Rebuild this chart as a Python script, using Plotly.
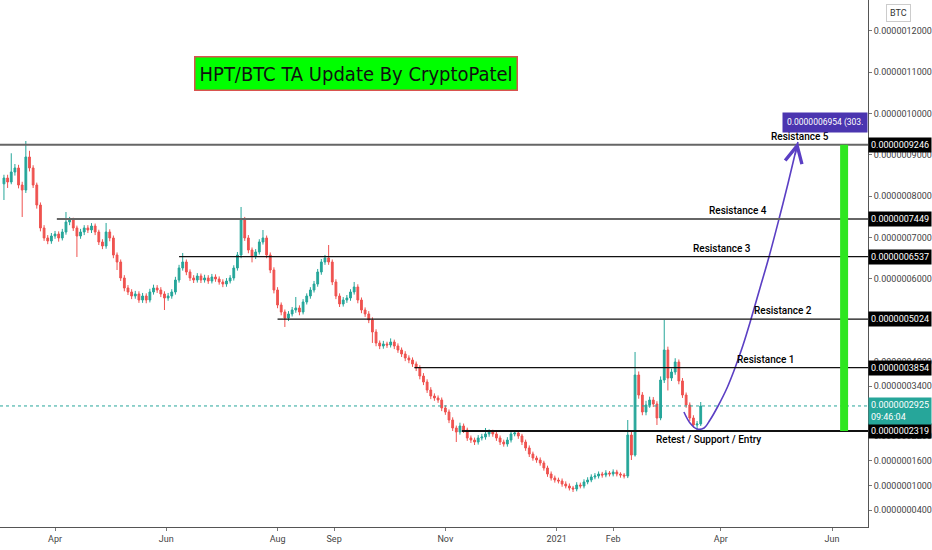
import pandas as pd
import plotly.graph_objs as go

# all prices below are in units of 0.0000000001 BTC
SCALE = 1e-10

# 2-day HPT/BTC candles
dates = pd.date_range("2020-03-04", periods=192, freq="2D")

opens = [
    8300, 8441, 8345, 8587, 8684, 8272, 8151, 8950, 8684, 8272, 7788, 7232,
    6990, 6917, 7038, 7086, 6990, 7135, 7377, 7425, 7232, 7038, 7135, 7232,
    7183, 7280, 7135, 6893, 6796, 7135, 6990, 6578, 6409, 6022, 5780, 5683,
    5586, 5635, 5489, 5586, 5489, 5683, 5780, 5731, 5635, 5538, 5586, 5683,
    5973, 6264, 6409, 6167, 6022, 5973, 6070, 5973, 6022, 5949, 6046, 5997,
    5925, 5876, 5949, 6022, 6264, 6578, 7425, 6990, 6699, 6554, 6651, 6893,
    6990, 6578, 6215, 5731, 5368, 5199, 5054, 5151, 5247, 5296, 5199, 5441,
    5586, 5731, 5876, 6167, 6409, 6506, 6409, 5925, 5586, 5393, 5489, 5538,
    5683, 5804, 5489, 5247, 5151, 5005, 4715, 4449, 4376, 4425, 4400, 4473,
    4376, 4279, 4183, 4086, 4037, 3941, 3844, 3650, 3505, 3311, 3166, 3118,
    3069, 2876, 2779, 2585, 2392, 2295, 2440, 2343, 2150, 2101, 2053, 2150,
    2174, 2247, 2295, 2247, 2150, 2053, 2004, 2101, 2247, 2271, 2198, 2053,
    1908, 1762, 1666, 1617, 1545, 1424, 1278, 1182, 1133, 1109, 1036, 988,
    940, 916, 1012, 988, 1085, 1133, 1206, 1230, 1278, 1254, 1303, 1278,
    1327, 1278, 1254, 1230, 2222, 1738, 3674, 3190, 2779, 2948, 3069, 2972,
    2634, 3553, 4279, 3601, 3747, 3989, 3530, 3190, 2948, 2634, 2464, 2489,
]
highs = [
    8520, 8520, 9040, 8780, 8760, 8350, 9337, 9100, 8750, 8330, 7850, 7300,
    7060, 7110, 7160, 7150, 7210, 7619, 7500, 7480, 7290, 7210, 7300, 7300,
    7350, 7340, 7190, 6960, 7353, 7200, 7050, 6640, 6470, 6090, 5850, 5750,
    5710, 5700, 5660, 5650, 5760, 5860, 5850, 5800, 5700, 5660, 5750, 6050,
    6340, 6627, 6470, 6230, 6090, 6140, 6130, 6100, 6090, 6120, 6110, 6060,
    5990, 6020, 6090, 6330, 6650, 7740, 7500, 7060, 6760, 6720, 6960, 7183,
    7050, 6640, 6280, 5800, 5430, 5260, 5220, 5320, 5562, 5360, 5510, 5650,
    5800, 5950, 6240, 6480, 6580, 6820, 6470, 5990, 5650, 5560, 5610, 5750,
    5925, 5870, 5550, 5310, 5220, 5070, 4780, 4510, 4500, 4480, 4560, 4530,
    4440, 4340, 4250, 4150, 4100, 4000, 3910, 3720, 3570, 3380, 3230, 3180,
    3130, 2940, 2840, 2650, 2450, 2520, 2500, 2400, 2210, 2160, 2220, 2250,
    2392, 2360, 2350, 2300, 2210, 2110, 2170, 2320, 2340, 2330, 2250, 2110,
    1970, 1820, 1720, 1680, 1600, 1480, 1340, 1240, 1190, 1170, 1100, 1050,
    990, 1080, 1070, 1150, 1200, 1270, 1300, 1340, 1330, 1370, 1350, 1390,
    1380, 1320, 1300, 2585, 2300, 4231, 3760, 3260, 3050, 3150, 3140, 3040,
    3640, 5005, 4360, 3830, 4080, 4050, 3600, 3250, 3010, 2700, 2560, 3021,
]
lows = [
    7909, 8200, 8290, 8500, 8190, 7498, 8080, 8600, 8200, 7700, 7150, 6920,
    6840, 6850, 6970, 6900, 6930, 7070, 7300, 7160, 6530, 6970, 7060, 7110,
    7110, 7060, 6820, 6720, 6730, 6910, 6500, 6215, 5950, 5700, 5610, 5510,
    5520, 5420, 5420, 5410, 5430, 5620, 5660, 5560, 5247, 5470, 5520, 5620,
    5910, 6200, 6090, 5950, 5900, 5910, 5900, 5910, 5880, 5890, 5930, 5860,
    5800, 5810, 5890, 5960, 6200, 6500, 6920, 6620, 6400, 6480, 6590, 6830,
    6500, 6140, 5650, 5290, 5120, 4836, 4980, 5090, 5180, 5120, 5140, 5380,
    5520, 5670, 5810, 6100, 6340, 6340, 5850, 5510, 5320, 5330, 5420, 5470,
    5620, 5410, 5170, 5080, 4930, 4450, 4370, 4300, 4310, 4330, 4340, 4300,
    4210, 4110, 4010, 3960, 3870, 3770, 3570, 3430, 3240, 3090, 3050, 3000,
    2800, 2710, 2510, 2320, 2053, 2230, 2270, 2080, 2030, 1980, 1990, 2090,
    2110, 2180, 2180, 2080, 1980, 1940, 1940, 2040, 2190, 2130, 1980, 1840,
    1690, 1600, 1550, 1480, 1360, 1210, 1120, 1070, 1050, 970, 930, 880,
    843, 860, 930, 930, 1030, 1080, 1150, 1170, 1190, 1200, 1220, 1220,
    1220, 1190, 1170, 1180, 1617, 1700, 3100, 2700, 2700, 2880, 2900, 2464,
    2580, 3480, 3300, 3530, 3680, 3450, 3120, 2880, 2560, 2400, 2343, 2440,
]
closes = [
    8441, 8345, 8587, 8684, 8272, 8151, 8950, 8684, 8272, 7788, 7232, 6990,
    6917, 7038, 7086, 6990, 7135, 7377, 7425, 7232, 7038, 7135, 7232, 7183,
    7280, 7135, 6893, 6796, 7135, 6990, 6578, 6409, 6022, 5780, 5683, 5586,
    5635, 5489, 5586, 5489, 5683, 5780, 5731, 5635, 5538, 5586, 5683, 5973,
    6264, 6409, 6167, 6022, 5973, 6070, 5973, 6022, 5949, 6046, 5997, 5925,
    5876, 5949, 6022, 6264, 6578, 7425, 6990, 6699, 6554, 6651, 6893, 6990,
    6578, 6215, 5731, 5368, 5199, 5054, 5151, 5247, 5296, 5199, 5441, 5586,
    5731, 5876, 6167, 6409, 6506, 6409, 5925, 5586, 5393, 5489, 5538, 5683,
    5804, 5489, 5247, 5151, 5005, 4715, 4449, 4376, 4425, 4400, 4473, 4376,
    4279, 4183, 4086, 4037, 3941, 3844, 3650, 3505, 3311, 3166, 3118, 3069,
    2876, 2779, 2585, 2392, 2295, 2440, 2343, 2150, 2101, 2053, 2150, 2174,
    2247, 2295, 2247, 2150, 2053, 2004, 2101, 2247, 2271, 2198, 2053, 1908,
    1762, 1666, 1617, 1545, 1424, 1278, 1182, 1133, 1109, 1036, 988, 940,
    916, 1012, 988, 1085, 1133, 1206, 1230, 1278, 1254, 1303, 1278, 1327,
    1278, 1254, 1230, 2222, 1738, 3674, 3190, 2779, 2948, 3069, 2972, 2634,
    3553, 4279, 3601, 3747, 3989, 3530, 3190, 2948, 2634, 2464, 2489, 2925,
]

# support / resistance levels
level_names = ["Resistance 5", "Resistance 4", "Resistance 3",
               "Resistance 2", "Resistance 1", "Retest / Support / Entry"]
level_prices = [9246, 7449, 6537, 5024, 3854, 2319]
level_starts = ["2020-03-01", "2020-04-02", "2020-06-08",
                "2020-08-01", "2020-10-15", "2020-11-10"]

# projected path (curved arrow)
curve_dates = ["2021-03-11 19:00", "2021-03-15 03:00", "2021-03-19", "2021-03-22 20:00",
               "2021-03-26 02:00", "2021-03-30 12:00", "2021-04-04 10:00", "2021-04-08 19:00",
               "2021-04-13 05:00", "2021-04-17 14:00", "2021-04-22 12:00", "2021-04-27 10:00",
               "2021-05-02 22:00", "2021-05-07 22:00", "2021-05-13 07:00"]
curve_prices = [2779, 2513, 2367, 2392, 2585, 2924, 3360, 3844,
                4400, 5029, 5780, 6530, 7449, 8321, 9313]

last_price = 2925
last_time = "09:46:04"
target_text = "0.0000006954 (303.42"

# price scale ticks (those fully hidden behind the level tags are left out)
ytick_vals = [400, 1000, 1600, 2200, 3400, 4000,
              6000, 7000, 8000, 9000, 10000, 11000, 12000]
xtick_dates = ["2020-04-01", "2020-06-01", "2020-08-01", "2020-09-01", "2020-11-01",
               "2021-01-01", "2021-02-01", "2021-04-01", "2021-06-01"]
xtick_text = ["Apr", "Jun", "Aug", "Sep", "Nov", "2021", "Feb", "Apr", "Jun"]

X_END = "2021-06-20 17:00"
FONT = "Roboto, sans-serif"


def sc(vals):
    return [v * SCALE for v in vals]


fig = go.Figure()

# candles
fig.add_trace(go.Candlestick(x=dates, open=sc(opens), high=sc(highs), low=sc(lows), close=sc(closes),
                             increasing=dict(line=dict(color="#26a69a", width=1), fillcolor="#26a69a"),
                             decreasing=dict(line=dict(color="#ef5350", width=1), fillcolor="#ef5350"),
                             whiskerwidth=0, showlegend=False, hoverinfo="skip"))

# projected curve
fig.add_trace(go.Scatter(x=curve_dates, y=sc(curve_prices), mode="lines",
                         line=dict(color="#5b3fc4", width=1.6, shape="spline"),
                         showlegend=False, hoverinfo="skip"))

shapes = []
# current price dotted line
shapes.append(dict(type="line", xref="paper", x0=0, x1=1, yref="y",
                   y0=last_price * SCALE, y1=last_price * SCALE,
                   line=dict(color="#26a69a", width=1, dash="dot")))
# level lines
for i, (p, s) in enumerate(zip(level_prices, level_starts)):
    grey = i < 2
    shapes.append(dict(type="line", xref="x", x0=s, x1=X_END, yref="y",
                       y0=p * SCALE, y1=p * SCALE,
                       line=dict(color="#666666" if grey else "#111111",
                                 width=2 if (grey or i == 5) else 1.3)))
# green target bar
shapes.append(dict(type="rect", xref="x", x0="2021-06-05 10:00", x1="2021-06-09 19:00",
                   yref="y", y0=level_prices[-1] * SCALE, y1=level_prices[0] * SCALE,
                   fillcolor="#2ee620", line=dict(width=0)))

annotations = []
label_pos = ["2021-05-14 10:00", "2021-04-10 12:00", "2021-04-01 16:00",
             "2021-05-05 02:00", "2021-04-25 20:00", "2021-03-25"]
for name, p, lx in zip(level_names, level_prices, label_pos):
    below = name.startswith("Retest")
    annotations.append(dict(x=lx, y=p * SCALE, xref="x", yref="y", text=name, showarrow=False,
                            xanchor="center", yanchor="top" if below else "bottom",
                            yshift=-1 if below else 1,
                            font=dict(family=FONT, size=10, color="#000000", weight=500)))
    annotations.append(dict(x=1, y=p * SCALE, xref="paper", yref="y", xanchor="left",
                            yanchor="middle", text=f"{p * SCALE:.10f}", showarrow=False,
                            bgcolor="#000000", borderpad=2,
                            font=dict(family=FONT, size=9, color="#ffffff")))

# current price tag
annotations.append(dict(x=1, y=last_price * SCALE, xref="paper", yref="y", xanchor="left",
                        yanchor="top", yshift=9, align="left",
                        text=f"{last_price * SCALE:.10f}<br>{last_time}", showarrow=False,
                        bgcolor="#26a69a", borderpad=2,
                        font=dict(family=FONT, size=9, color="#ffffff")))

# arrow head at end of curve
annotations.append(dict(x=curve_dates[-1], y=curve_prices[-1] * SCALE, xref="x", yref="y",
                        ax=-3, ay=14, showarrow=True, arrowhead=5, arrowsize=2.4,
                        arrowwidth=1.4, arrowcolor="#5b3fc4", text=""))

# target label
annotations.append(dict(x=1, y=9773 * SCALE, xref="paper", yref="y", xanchor="right",
                        yanchor="middle", text=target_text, showarrow=False,
                        bgcolor="#4b35b0", borderpad=4, width=76, align="left",
                        font=dict(family=FONT, size=8.5, color="#ffffff")))

# title box
annotations.append(dict(x=0.41, y=0.861, xref="paper", yref="paper", xanchor="center",
                        yanchor="middle", text="HPT/BTC TA Update By CryptoPatel", showarrow=False,
                        bgcolor="#00ff00", bordercolor="#d9534f", borderwidth=1.5, borderpad=4,
                        font=dict(family="DejaVu Sans Condensed, DejaVu Sans, sans-serif",
                                  size=20, color="#111111")))

# currency box
annotations.append(dict(x=1.0346, y=0.975, xref="paper", yref="paper", xanchor="center",
                        yanchor="middle", text="BTC", showarrow=False,
                        bordercolor="#cccccc", borderwidth=1, borderpad=3,
                        font=dict(family=FONT, size=9, color="#333333")))

fig.update_layout(
    width=932, height=550,
    margin=dict(l=0, r=64, t=0, b=23),
    paper_bgcolor="white", plot_bgcolor="white",
    shapes=shapes, annotations=annotations,
    xaxis=dict(type="date", range=["2020-03-01 20:00", X_END], rangeslider=dict(visible=False),
               tickvals=xtick_dates, ticktext=xtick_text, ticks="outside", ticklen=3,
               tickcolor="#777777", showgrid=False, zeroline=False, showline=True,
               linecolor="#555555", linewidth=1,
               tickfont=dict(family=FONT, size=9, color="#444444")),
    yaxis=dict(side="right", range=[-4 * SCALE, 12749 * SCALE], tickvals=sc(ytick_vals),
               ticktext=[f"{v * SCALE:.10f}" for v in ytick_vals], ticks="outside", ticklen=3,
               tickcolor="#777777", showgrid=False, zeroline=False, showline=True,
               linecolor="#555555", linewidth=1,
               tickfont=dict(family=FONT, size=9, color="#444444")),
)

fig.write_html("out.html", config={"displayModeBar": False},
               post_script="document.body.style.margin='0';")
